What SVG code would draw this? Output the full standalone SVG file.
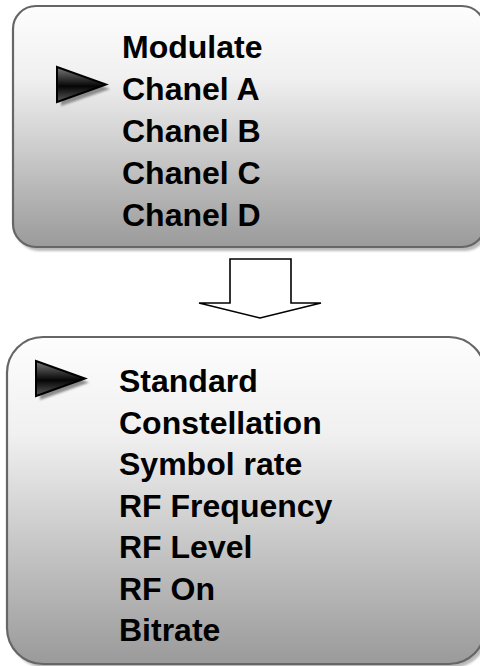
<svg xmlns="http://www.w3.org/2000/svg" width="480" height="666" viewBox="0 0 480 666">
  <style>
    .panel { fill: url(#panelFill); stroke: #666666; stroke-width: 2.2; }
    .panel-shadow { fill: #b9b9b9; filter: url(#soft); }
    .item { font-family: "Liberation Sans", Arial, sans-serif; font-weight: bold; font-size: 32px; fill: #000000; }
    .pointer { fill: url(#pointerFill); stroke: #000000; stroke-width: 2; stroke-linejoin: miter; }
    .pointer-shadow { fill: #8c8c8c; filter: url(#soft); }
    .block-arrow { fill: #ffffff; stroke: #000000; stroke-width: 1.6; stroke-linejoin: miter; }
  </style>
  <defs>
    <linearGradient id="panelFill" x1="0" y1="0" x2="0" y2="1">
      <stop offset="0" stop-color="#fdfdfd"/>
      <stop offset="0.3" stop-color="#f0f0f0"/>
      <stop offset="1" stop-color="#9a9a9a"/>
    </linearGradient>
    <linearGradient id="pointerFill" x1="0" y1="0" x2="0" y2="1">
      <stop offset="0" stop-color="#7a7a7a"/>
      <stop offset="0.55" stop-color="#050505"/>
      <stop offset="1" stop-color="#5a5a5a"/>
    </linearGradient>
    <filter id="soft" x="-10%" y="-10%" width="120%" height="120%">
      <feGaussianBlur stdDeviation="0.8"/>
    </filter>
  </defs>

  <rect width="480" height="666" fill="#ffffff"/>

  <!-- main menu panel -->
  <g id="menu-main">
    <rect class="panel-shadow" x="16" y="10" width="472" height="241" rx="23"/>
    <rect class="panel" x="13" y="6" width="472" height="241" rx="23"/>
    <polygon class="pointer-shadow" points="61,71 110,89 61,106"/>
    <polygon class="pointer" points="57,67 106,84.5 57,102"/>
    <text class="item" x="122" y="58">Modulate</text>
    <text class="item" x="122" y="100">Chanel A</text>
    <text class="item" x="122" y="142">Chanel B</text>
    <text class="item" x="122" y="184">Chanel C</text>
    <text class="item" x="122" y="226">Chanel D</text>
  </g>

  <!-- channel settings panel -->
  <g id="menu-channel">
    <rect class="panel-shadow" x="10" y="341" width="478" height="327" rx="36"/>
    <rect class="panel" x="7" y="337" width="478" height="327" rx="36"/>
    <polygon class="pointer-shadow" points="40,365 89,382.5 40,400"/>
    <polygon class="pointer" points="36,361 85,378.5 36,396"/>
    <text class="item" x="119" y="392">Standard</text>
    <text class="item" x="119" y="433.5">Constellation</text>
    <text class="item" x="119" y="475">Symbol rate</text>
    <text class="item" x="119" y="516.5">RF Frequency</text>
    <text class="item" x="119" y="558">RF Level</text>
    <text class="item" x="119" y="599.5">RF On</text>
    <text class="item" x="119" y="641">Bitrate</text>
  </g>

  <!-- connectors -->
  <g id="connectors">
    <path class="block-arrow" d="M230,259 H291 V303 H321 L260,318 L199,303 H230 Z"/>
  </g>
</svg>
